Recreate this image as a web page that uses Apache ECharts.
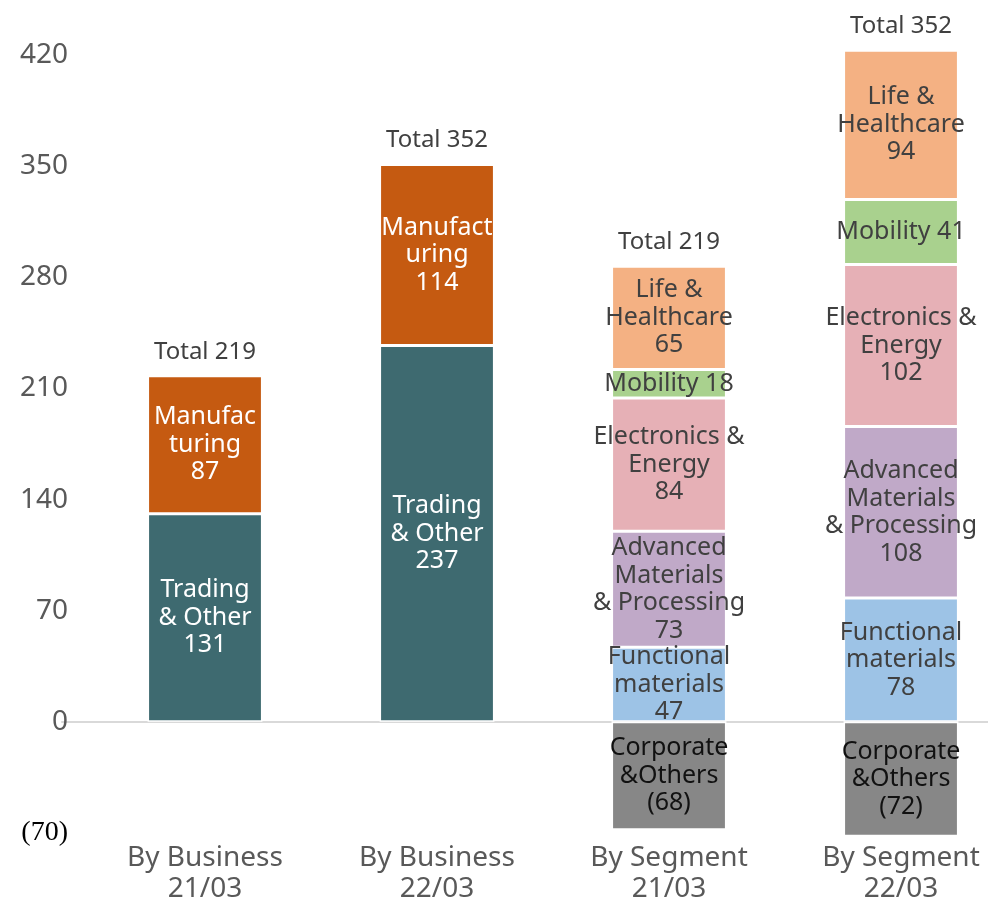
<!DOCTYPE html>
<html>
<head>
<meta charset="utf-8">
<script src="https://cdn.jsdelivr.net/npm/echarts@6/dist/echarts.min.js"></script>
<style>
  html, body { margin: 0; padding: 0; background: #fff; }
  #echarts { width: 988px; height: 897px; }
</style>
</head>
<body>
<div id="echarts"></div>
<script>
// 数据
var categories = ["By Business\n21/03", "By Business\n22/03", "By Segment\n21/03", "By Segment\n22/03"];
var trading = [131, 237, "-", "-"];
var manufacturing = [87, 114, "-", "-"];
var corporate = ["-", "-", -68, -72];
var functional = ["-", "-", 47, 78];
var advanced = ["-", "-", 73, 108];
var electronics = ["-", "-", 84, 102];
var mobility = ["-", "-", 18, 41];
var life = ["-", "-", 65, 94];
var totals = [219, 352, 219, 352];
var totalBase = [0, 0, 0, 0];

// 标签文字
var manufacturingNames = ["Manufac\nturing", "Manufact\nuring"];
var FONT = "'Noto Sans', sans-serif";

var chartDom = document.getElementById("echarts");
var myChart = echarts.init(chartDom);
var option;

function seg(name, data, color, textColor, labelFn) {
  return {
    name: name,
    type: "bar",
    stack: "total",
    barWidth: "49.5%",
    clip: false,
    data: data,
    itemStyle: {
      color: color,
      borderColor: "#fff",
      borderWidth: 1.5,
    },
    label: {
      show: true,
      position: "inside",
      color: textColor,
      fontFamily: FONT,
      fontSize: 25,
      lineHeight: 27.5,
      formatter: labelFn,
    },
  };
}

option = {
  animation: false,
  grid: [
    // 柱中心 = 刻度位置 (boundaryGap: false)
    { left: 205, right: 87, top: 55, bottom: 64, outerBoundsMode: "none" },
    { left: 62, right: 0, top: 55, bottom: 64, outerBoundsMode: "none" },
  ],
  xAxis: [
    {
      type: "category",
      gridIndex: 0,
      boundaryGap: false,
      data: categories,
      axisLine: { show: false, onZero: false },
      axisTick: { show: false },
      axisLabel: {
        color: "#595959",
        fontFamily: FONT,
        fontSize: 28,
        lineHeight: 31,
        margin: 10,
      },
    },
    {
      type: "category",
      gridIndex: 1,
      data: [""],
      axisLine: { show: true, lineStyle: { color: "#d9d9d9", width: 2 } },
      axisTick: { show: false },
      axisLabel: { show: false },
    },
  ],
  yAxis: [
    {
      type: "value",
      gridIndex: 0,
      min: -70,
      max: 420,
      interval: 70,
      splitLine: { show: false },
      axisLine: { show: false },
      axisTick: { show: false },
      axisLabel: {
        margin: 137,
        color: "#595959",
        fontFamily: FONT,
        fontSize: 28,
        formatter: function (v) {
          return v < 0 ? "{neg|(" + -v + ")}" : String(v);
        },
        rich: {
          neg: {
            color: "#000",
            fontFamily: "'Liberation Serif', serif",
            fontSize: 28,
          },
        },
      },
    },
    {
      type: "value",
      gridIndex: 1,
      min: -70,
      max: 420,
      show: false,
    },
  ],
  series: [
    seg("Trading & Other", trading, "#3e6a70", "#fff", function (p) {
      return "Trading\n& Other\n" + p.value;
    }),
    seg("Manufacturing", manufacturing, "#c55a11", "#fff", function (p) {
      return manufacturingNames[p.dataIndex] + "\n" + p.value;
    }),
    seg("Corporate & Others", corporate, "#878787", "#111", function (p) {
      return "Corporate\n&Others\n(" + -p.value + ")";
    }),
    seg("Functional materials", functional, "#9dc3e6", "#404040", function (p) {
      return "Functional\nmaterials\n" + p.value;
    }),
    seg("Advanced Materials & Processing", advanced, "#c0a9c8", "#404040", function (p) {
      return "Advanced\nMaterials\n& Processing\n" + p.value;
    }),
    seg("Electronics & Energy", electronics, "#e6b0b6", "#404040", function (p) {
      return "Electronics &\nEnergy\n" + p.value;
    }),
    seg("Mobility", mobility, "#a9d18e", "#404040", function (p) {
      return "Mobility " + p.value;
    }),
    seg("Life & Healthcare", life, "#f4b183", "#404040", function (p) {
      return "Life &\nHealthcare\n" + p.value;
    }),
    {
      name: "Total",
      type: "bar",
      stack: "total",
      barWidth: "49.5%",
      clip: false,
      data: totalBase,
      itemStyle: { color: "transparent" },
      label: {
        show: true,
        position: "top",
        distance: 12,
        color: "#404040",
        fontFamily: FONT,
        fontSize: 24,
        formatter: function (p) {
          return "Total " + totals[p.dataIndex];
        },
      },
    },
  ],
};

option && myChart.setOption(option);
</script>
</body>
</html>
